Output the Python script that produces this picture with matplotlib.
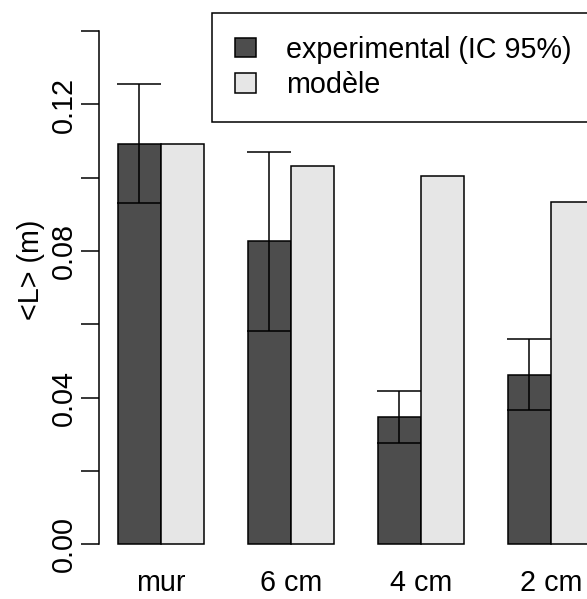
import numpy as np
import matplotlib.pyplot as plt
from matplotlib.patches import Patch

plt.rcParams['font.family'] = ['Liberation Sans', 'DejaVu Sans']

# données
conditions = ['mur', '6 cm', '4 cm', '2 cm']
L_exp = [0.1092, 0.0828, 0.0347, 0.0462]
ic_bas = [0.0931, 0.0582, 0.0277, 0.0367]
ic_haut = [0.1257, 0.1070, 0.0417, 0.0559]
L_modele = [0.1092, 0.1032, 0.1005, 0.0934]
yticks = [0.00, 0.02, 0.04, 0.06, 0.08, 0.10, 0.12, 0.14]
ytick_labels = ['0.00', '', '0.04', '', '0.08', '', '0.12', '']

gris_fonce = '#4d4d4d'
gris_clair = '#e6e6e6'
fs = 20.7

W, H = 587, 599
fig = plt.figure(figsize=(W / 100, H / 100), dpi=100)
# position de l'axe en pixels (style R : le graphe déborde à droite)
ax = fig.add_axes([99 / W, (H - 565) / H, 1 - 99 / W, 550 / H])

idx = np.arange(len(conditions))
x_exp = 3 * idx + 1.5
x_mod = 3 * idx + 2.5

ax.bar(x_exp, L_exp, width=1.0, color=gris_fonce, edgecolor='black', linewidth=1.1)
ax.bar(x_mod, L_modele, width=1.0, color=gris_clair, edgecolor='black', linewidth=1.1)

L = np.array(L_exp)
err = [L - np.array(ic_bas), np.array(ic_haut) - L]
ax.errorbar(x_exp, L_exp, yerr=err, fmt='none', ecolor='black', elinewidth=1.1,
            capsize=15.6, capthick=1.1)

ax.set_xlim(0.569, 11.83)
ax.set_ylim(-0.005648, 0.14442)

for s in ['top', 'right', 'bottom']:
    ax.spines[s].set_visible(False)
ax.spines['left'].set_bounds(0, 0.14)
ax.spines['left'].set_linewidth(1.1)

ax.set_yticks(yticks)
ax.set_yticklabels(ytick_labels, rotation=90, va='center', fontsize=fs)
ax.tick_params(axis='y', length=13, width=1.1, pad=2)

ax.set_xticks(3 * idx + 2)
ax.set_xticklabels(conditions, fontsize=fs)
ax.tick_params(axis='x', length=0, pad=3)

ax.set_ylabel('<L> (m)', fontsize=fs)
ax.yaxis.set_label_coords((45 - 99) / 488, (565 - 270) / 550)

handles = [Patch(facecolor=gris_fonce, edgecolor='black', linewidth=1.1),
           Patch(facecolor=gris_clair, edgecolor='black', linewidth=1.1)]
leg = ax.legend(handles, ['experimental (IC 95%)', 'modèle'], fontsize=fs,
                loc='upper left', bbox_to_anchor=(211.5 / W, 1 - 13 / H),
                bbox_transform=fig.transFigure, frameon=True, fancybox=False,
                edgecolor='black', framealpha=1, borderaxespad=0,
                handlelength=0.75, handleheight=0.65, handletextpad=1.05,
                labelspacing=0.25, borderpad=0.8)
leg.get_frame().set_linewidth(1.1)

fig.savefig('out.png', dpi=100)
